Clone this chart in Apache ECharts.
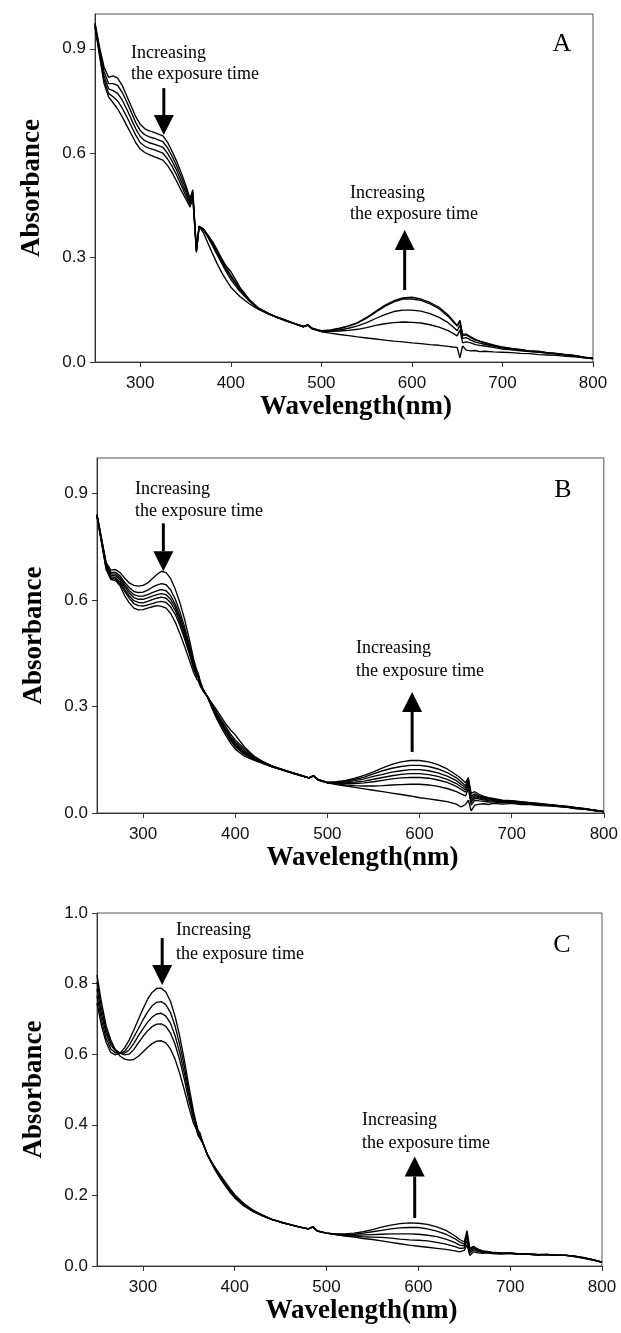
<!DOCTYPE html>
<html><head><meta charset="utf-8">
<script src="https://cdn.jsdelivr.net/npm/echarts@6/dist/echarts.min.js"></script>
<style>html,body{margin:0;padding:0;background:#fff}#c{width:621px;height:1333px}</style>
</head><body><div id="c"></div>
<script>
// Wavelength grid (nm)
const W = [
250,255,260,265,270,275,280,285,290,295,
300,305,310,315,320,325,330,335,340,345,
350,355,358,360,362,365,370,375,380,385,
390,395,400,410,420,430,440,450,460,470,
480,485,490,500,510,520,530,540,550,560,
570,580,590,600,610,620,630,640,645,650,
653,656,660,665,670,675,680,690,700,710,
720,730,740,750,760,770,780,790,800];

// Panel A (time increasing a0 -> a4)
const A0 = [0.975,0.905,0.848,0.818,0.822,0.816,0.795,0.765,0.735,0.705,
0.683,0.670,0.664,0.660,0.655,0.650,0.632,0.606,0.578,0.545,
0.510,0.470,0.495,0.410,0.320,0.390,0.370,0.340,0.310,0.282,
0.257,0.235,0.215,0.188,0.168,0.152,0.140,0.129,0.119,0.110,
0.101,0.106,0.095,0.087,0.083,0.079,0.076,0.072,0.069,0.066,
0.063,0.060,0.058,0.055,0.053,0.050,0.048,0.045,0.043,0.042,
0.012,0.046,0.034,0.032,0.033,0.030,0.031,0.029,0.028,0.027,
0.025,0.024,0.021,0.020,0.019,0.016,0.015,0.012,0.010];
const A1 = [0.972,0.898,0.835,0.800,0.800,0.795,0.775,0.748,0.718,0.688,
0.665,0.653,0.647,0.643,0.638,0.633,0.616,0.592,0.565,0.533,
0.500,0.462,0.488,0.405,0.325,0.390,0.378,0.357,0.333,0.308,
0.283,0.259,0.237,0.203,0.176,0.154,0.140,0.129,0.119,0.110,
0.101,0.105,0.095,0.088,0.088,0.089,0.091,0.094,0.099,0.105,
0.110,0.113,0.115,0.114,0.112,0.107,0.100,0.090,0.083,0.075,
0.092,0.055,0.058,0.055,0.050,0.048,0.046,0.042,0.037,0.035,
0.032,0.030,0.028,0.025,0.023,0.020,0.017,0.013,0.009];
const A2 = [0.968,0.892,0.822,0.785,0.780,0.772,0.753,0.727,0.698,0.670,
0.648,0.636,0.630,0.626,0.622,0.617,0.600,0.578,0.552,0.521,
0.490,0.455,0.482,0.400,0.322,0.390,0.380,0.360,0.338,0.314,
0.289,0.265,0.245,0.208,0.178,0.155,0.141,0.130,0.120,0.110,
0.102,0.106,0.096,0.088,0.089,0.092,0.097,0.104,0.113,0.125,
0.136,0.145,0.149,0.149,0.146,0.139,0.128,0.113,0.102,0.090,
0.106,0.068,0.070,0.063,0.057,0.054,0.051,0.046,0.040,0.037,
0.034,0.031,0.029,0.026,0.024,0.021,0.018,0.014,0.010];
const A3 = [0.965,0.886,0.810,0.772,0.762,0.750,0.730,0.705,0.678,0.652,
0.630,0.620,0.614,0.610,0.605,0.600,0.584,0.563,0.538,0.509,
0.480,0.450,0.478,0.398,0.318,0.390,0.381,0.362,0.341,0.318,
0.293,0.270,0.250,0.211,0.179,0.155,0.141,0.130,0.120,0.111,
0.102,0.107,0.096,0.089,0.091,0.096,0.103,0.112,0.126,0.143,
0.160,0.173,0.181,0.181,0.177,0.167,0.153,0.131,0.117,0.103,
0.116,0.076,0.078,0.070,0.063,0.059,0.055,0.048,0.042,0.038,
0.035,0.032,0.030,0.027,0.024,0.021,0.018,0.014,0.011];
const A4 = [0.962,0.880,0.800,0.762,0.745,0.727,0.705,0.680,0.655,0.630,
0.612,0.602,0.596,0.590,0.585,0.580,0.565,0.545,0.520,0.494,
0.470,0.445,0.472,0.395,0.315,0.390,0.382,0.364,0.345,0.322,
0.297,0.275,0.260,0.215,0.181,0.156,0.142,0.130,0.121,0.111,
0.102,0.107,0.097,0.090,0.092,0.097,0.104,0.113,0.128,0.146,
0.163,0.176,0.184,0.186,0.181,0.171,0.157,0.135,0.120,0.105,
0.120,0.080,0.080,0.072,0.065,0.060,0.056,0.049,0.043,0.039,
0.036,0.031,0.031,0.026,0.025,0.020,0.019,0.013,0.011];

// Panel B (time increasing b0 -> b6)
const B0 = [0.842,0.772,0.705,0.684,0.686,0.677,0.662,0.648,0.641,0.639,
0.641,0.648,0.660,0.672,0.681,0.677,0.660,0.630,0.592,0.546,
0.492,0.432,0.405,0.392,0.372,0.350,0.326,0.294,0.265,0.240,
0.218,0.197,0.180,0.160,0.149,0.140,0.130,0.122,0.114,0.106,
0.099,0.105,0.093,0.085,0.080,0.076,0.072,0.068,0.064,0.060,
0.056,0.052,0.048,0.043,0.040,0.036,0.032,0.025,0.017,0.024,
0.036,0.006,0.022,0.025,0.026,0.024,0.027,0.025,0.027,0.024,
0.024,0.021,0.020,0.018,0.016,0.012,0.010,0.006,0.003];
const B1 = [0.840,0.770,0.700,0.678,0.678,0.668,0.650,0.635,0.624,0.621,
0.622,0.628,0.636,0.642,0.646,0.643,0.628,0.602,0.567,0.525,
0.477,0.423,0.398,0.388,0.368,0.349,0.327,0.297,0.270,0.246,
0.225,0.204,0.187,0.165,0.151,0.140,0.130,0.122,0.114,0.106,
0.099,0.104,0.093,0.085,0.082,0.079,0.077,0.076,0.076,0.077,
0.079,0.080,0.081,0.081,0.079,0.075,0.069,0.060,0.054,0.048,
0.070,0.022,0.036,0.034,0.033,0.031,0.031,0.029,0.030,0.026,
0.026,0.023,0.021,0.019,0.017,0.013,0.010,0.007,0.004];
const B2 = [0.839,0.768,0.697,0.674,0.673,0.662,0.643,0.627,0.615,0.611,
0.611,0.615,0.621,0.626,0.629,0.626,0.612,0.588,0.554,0.514,
0.469,0.418,0.395,0.386,0.366,0.348,0.327,0.299,0.273,0.250,
0.229,0.208,0.191,0.168,0.152,0.141,0.131,0.122,0.114,0.106,
0.099,0.104,0.093,0.086,0.084,0.083,0.083,0.085,0.088,0.092,
0.096,0.099,0.100,0.100,0.098,0.093,0.086,0.075,0.067,0.059,
0.080,0.030,0.042,0.039,0.037,0.035,0.034,0.031,0.031,0.028,
0.027,0.024,0.022,0.019,0.017,0.014,0.011,0.007,0.004];
const B3 = [0.838,0.766,0.694,0.670,0.668,0.657,0.637,0.620,0.607,0.602,
0.602,0.606,0.611,0.615,0.618,0.615,0.602,0.579,0.546,0.507,
0.463,0.414,0.392,0.384,0.365,0.347,0.327,0.301,0.276,0.253,
0.233,0.212,0.195,0.171,0.154,0.142,0.131,0.123,0.115,0.107,
0.099,0.104,0.094,0.086,0.085,0.085,0.087,0.090,0.095,0.100,
0.105,0.109,0.111,0.111,0.108,0.103,0.095,0.083,0.074,0.065,
0.085,0.036,0.046,0.042,0.039,0.037,0.036,0.033,0.032,0.029,
0.027,0.025,0.022,0.020,0.017,0.014,0.011,0.008,0.004];
const B4 = [0.837,0.764,0.691,0.666,0.663,0.651,0.630,0.612,0.598,0.593,
0.592,0.596,0.601,0.605,0.608,0.605,0.592,0.570,0.538,0.500,
0.457,0.410,0.389,0.382,0.363,0.346,0.327,0.303,0.279,0.257,
0.237,0.216,0.200,0.175,0.156,0.143,0.132,0.123,0.115,0.107,
0.099,0.105,0.094,0.086,0.086,0.088,0.091,0.096,0.103,0.109,
0.115,0.119,0.122,0.122,0.119,0.113,0.104,0.091,0.081,0.071,
0.090,0.042,0.050,0.045,0.042,0.039,0.038,0.034,0.033,0.030,
0.028,0.025,0.023,0.020,0.018,0.015,0.011,0.008,0.004];
const B5 = [0.836,0.762,0.688,0.662,0.659,0.646,0.624,0.605,0.590,0.584,
0.583,0.586,0.590,0.594,0.596,0.593,0.580,0.559,0.528,0.491,
0.450,0.405,0.386,0.380,0.362,0.345,0.327,0.305,0.283,0.262,
0.242,0.222,0.206,0.180,0.158,0.144,0.132,0.123,0.115,0.107,
0.099,0.105,0.094,0.086,0.087,0.090,0.095,0.101,0.110,0.119,
0.126,0.131,0.134,0.134,0.131,0.124,0.114,0.099,0.088,0.077,
0.095,0.048,0.054,0.048,0.044,0.041,0.039,0.035,0.034,0.031,
0.029,0.026,0.023,0.021,0.018,0.015,0.012,0.008,0.004];
const B6 = [0.835,0.760,0.685,0.658,0.655,0.640,0.612,0.592,0.577,0.572,
0.573,0.577,0.581,0.584,0.582,0.577,0.562,0.537,0.505,0.470,
0.432,0.395,0.378,0.372,0.358,0.344,0.327,0.309,0.290,0.270,
0.250,0.234,0.220,0.186,0.161,0.145,0.133,0.124,0.115,0.107,
0.099,0.105,0.094,0.086,0.088,0.092,0.098,0.106,0.116,0.127,
0.137,0.144,0.148,0.148,0.144,0.136,0.124,0.107,0.097,0.085,
0.100,0.055,0.060,0.052,0.047,0.043,0.041,0.036,0.035,0.032,
0.029,0.027,0.024,0.021,0.019,0.015,0.012,0.008,0.004];

// Panel C (time increasing c0 -> c4)
const C0 = [0.745,0.680,0.633,0.605,0.598,0.603,0.618,0.640,0.668,0.698,
0.728,0.755,0.775,0.786,0.787,0.776,0.750,0.708,0.652,0.585,
0.510,0.440,0.405,0.385,0.378,0.352,0.316,0.290,0.266,0.245,
0.226,0.208,0.193,0.170,0.154,0.142,0.132,0.124,0.117,0.111,
0.105,0.110,0.099,0.093,0.089,0.085,0.082,0.078,0.075,0.071,
0.067,0.063,0.059,0.056,0.053,0.050,0.047,0.043,0.040,0.044,
0.060,0.030,0.040,0.037,0.036,0.037,0.035,0.034,0.036,0.033,
0.033,0.031,0.033,0.030,0.030,0.027,0.022,0.017,0.010];
const C1 = [0.765,0.695,0.645,0.615,0.604,0.602,0.608,0.625,0.648,0.672,
0.697,0.719,0.737,0.747,0.749,0.740,0.718,0.680,0.628,0.566,
0.496,0.432,0.400,0.382,0.377,0.351,0.316,0.291,0.268,0.247,
0.229,0.211,0.195,0.172,0.155,0.143,0.132,0.124,0.117,0.111,
0.105,0.110,0.099,0.093,0.089,0.086,0.085,0.083,0.082,0.081,
0.079,0.076,0.074,0.073,0.071,0.067,0.062,0.055,0.050,0.051,
0.072,0.036,0.046,0.041,0.039,0.038,0.036,0.035,0.036,0.034,
0.033,0.032,0.032,0.031,0.030,0.027,0.023,0.017,0.011];
const C2 = [0.785,0.712,0.658,0.625,0.610,0.603,0.603,0.612,0.630,0.652,
0.672,0.690,0.705,0.714,0.716,0.708,0.688,0.653,0.605,0.548,
0.484,0.425,0.396,0.378,0.376,0.350,0.317,0.292,0.270,0.250,
0.232,0.213,0.197,0.173,0.156,0.143,0.132,0.124,0.117,0.111,
0.105,0.111,0.099,0.093,0.090,0.087,0.087,0.088,0.089,0.090,
0.091,0.091,0.091,0.090,0.087,0.083,0.076,0.066,0.059,0.057,
0.082,0.042,0.050,0.044,0.041,0.039,0.037,0.036,0.036,0.034,
0.034,0.032,0.033,0.031,0.030,0.028,0.023,0.018,0.011];
const C3 = [0.805,0.728,0.668,0.633,0.613,0.603,0.598,0.600,0.613,0.632,
0.650,0.666,0.678,0.685,0.686,0.679,0.660,0.628,0.584,0.530,
0.470,0.417,0.393,0.376,0.375,0.350,0.317,0.293,0.272,0.252,
0.234,0.216,0.199,0.175,0.157,0.144,0.133,0.125,0.117,0.111,
0.105,0.111,0.099,0.093,0.090,0.089,0.090,0.093,0.097,0.101,
0.105,0.108,0.109,0.109,0.105,0.099,0.090,0.077,0.068,0.062,
0.090,0.046,0.053,0.046,0.042,0.040,0.038,0.036,0.036,0.034,
0.034,0.032,0.033,0.031,0.031,0.028,0.023,0.018,0.011];
const C4 = [0.824,0.745,0.680,0.640,0.612,0.595,0.586,0.583,0.585,0.594,
0.606,0.619,0.630,0.637,0.638,0.632,0.615,0.586,0.546,0.500,
0.450,0.405,0.388,0.370,0.374,0.349,0.318,0.294,0.274,0.255,
0.237,0.219,0.202,0.177,0.158,0.145,0.133,0.125,0.118,0.111,
0.105,0.111,0.100,0.093,0.091,0.091,0.093,0.097,0.103,0.110,
0.116,0.120,0.122,0.121,0.118,0.111,0.101,0.085,0.075,0.068,
0.100,0.050,0.056,0.048,0.043,0.041,0.039,0.037,0.036,0.035,
0.034,0.033,0.032,0.031,0.031,0.028,0.024,0.018,0.011];

// Axis ticks
const xTicks = [300,400,500,600,700,800];
const yTicksAB = [0,0.3,0.6,0.9];
const yTicksC = [0,0.2,0.4,0.6,0.8,1.0];

// Annotation arrows: [wavelength, tail value, tip value]
const arrowsA = [[326,0.787,0.652],[592,0.207,0.379]];
const arrowsB = [[322,0.816,0.681],[592,0.172,0.341]];
const arrowsC = [[321,0.929,0.796],[596,0.136,0.310]];

const panels = [
  {curves:[A0,A1,A2,A3,A4], yTicks:yTicksAB, arrows:arrowsA, letter:'A'},
  {curves:[B0,B1,B2,B3,B4,B5,B6], yTicks:yTicksAB, arrows:arrowsB, letter:'B'},
  {curves:[C0,C1,C2,C3,C4], yTicks:yTicksC, arrows:arrowsC, letter:'C'}
];

const gridBoxes = [
  {left:95, top:14, width:498, height:348},
  {left:97, top:458, width:508, height:355},
  {left:97, top:913, width:505, height:353}
];

const grid = [], xAxis = [], yAxis = [], series = [];
panels.forEach((p, i) => {
  grid.push(Object.assign({show:true, borderColor:'#555', borderWidth:1, backgroundColor:'transparent'}, gridBoxes[i]));
  xAxis.push({
    gridIndex:i, type:'value', min:250, max:800, interval:50,
    axisLine:{show:true, onZero:false, lineStyle:{color:'#333', width:1}},
    axisTick:{show:true, inside:false, length:5, customValues:xTicks, lineStyle:{color:'#333'}},
    axisLabel:{customValues:xTicks, fontSize:17, color:'#111', fontFamily:'Liberation Sans', margin:13},
    splitLine:{show:false},
    name:'Wavelength(nm)', nameLocation:'middle', nameGap:32,
    nameTextStyle:{fontFamily:'Liberation Serif', fontWeight:'bold', fontSize:27, color:'#000', padding:[0,0,0,24]}
  });
  yAxis.push({
    gridIndex:i, type:'value', min:0, max:1, interval:(i===2?0.2:0.1),
    axisLine:{show:true, onZero:false, lineStyle:{color:'#333', width:1}},
    axisTick:{show:true, inside:false, length:5, customValues:p.yTicks, lineStyle:{color:'#333'}},
    axisLabel:{customValues:p.yTicks, fontSize:17, color:'#111', fontFamily:'Liberation Sans', margin:9,
      formatter:(v)=>Number(v).toFixed(1)},
    splitLine:{show:false},
    name:'Absorbance', nameLocation:'middle', nameGap:49, nameRotate:90,
    nameTextStyle:{fontFamily:'Liberation Serif', fontWeight:'bold', fontSize:27, color:'#000'}
  });
  p.curves.forEach(arr => {
    series.push({
      type:'line', xAxisIndex:i, yAxisIndex:i,
      data: W.map((x,k)=>[x, arr[k]]),
      showSymbol:false, symbol:'none', silent:true,
      lineStyle:{color:'#000', width:1.35}
    });
  });
});

const chart = echarts.init(document.getElementById('c'), null, {renderer:'canvas'});
chart.setOption({animation:false, backgroundColor:'#fff', grid, xAxis, yAxis, series});

// Annotations
const g = [];
panels.forEach((p, i) => {
  p.arrows.forEach(([x, y1, y2]) => {
    const p1 = chart.convertToPixel({gridIndex:i}, [x, y1]);
    const p2 = chart.convertToPixel({gridIndex:i}, [x, y2]);
    const dir = Math.sign(p2[1] - p1[1]);
    const base = p2[1] - dir * 20;
    g.push({type:'line', z:100, shape:{x1:p1[0], y1:p1[1], x2:p2[0], y2:base}, style:{stroke:'#000', lineWidth:3}});
    g.push({type:'polygon', z:100, shape:{points:[[p2[0]-10, base],[p2[0]+10, base],[p2[0], p2[1]]]}, style:{fill:'#000'}});
  });
});
const labelFont = '18px "Liberation Serif"';
const texts = [
  ['Increasing',131,53],['the exposure time',131,74],
  ['Increasing',350,193],['the exposure time',350,214],
  ['Increasing',135,489],['the exposure time',135,511],
  ['Increasing',356,648],['the exposure time',356,671],
  ['Increasing',176,930],['the exposure time',176,954],
  ['Increasing',362,1120],['the exposure time',362,1143]
];
texts.forEach(([t, x, y]) => {
  g.push({type:'text', z:100, x:x, y:y, style:{text:t, font:labelFont, fill:'#000', align:'left', verticalAlign:'middle'}});
});
[['A',562,44],['B',563,490],['C',562,945]].forEach(([t,x,y]) => {
  g.push({type:'text', z:100, x:x, y:y, style:{text:t, font:'26px "Liberation Serif"', fill:'#000', align:'center', verticalAlign:'middle'}});
});
chart.setOption({graphic:g});
</script>
</body></html>
